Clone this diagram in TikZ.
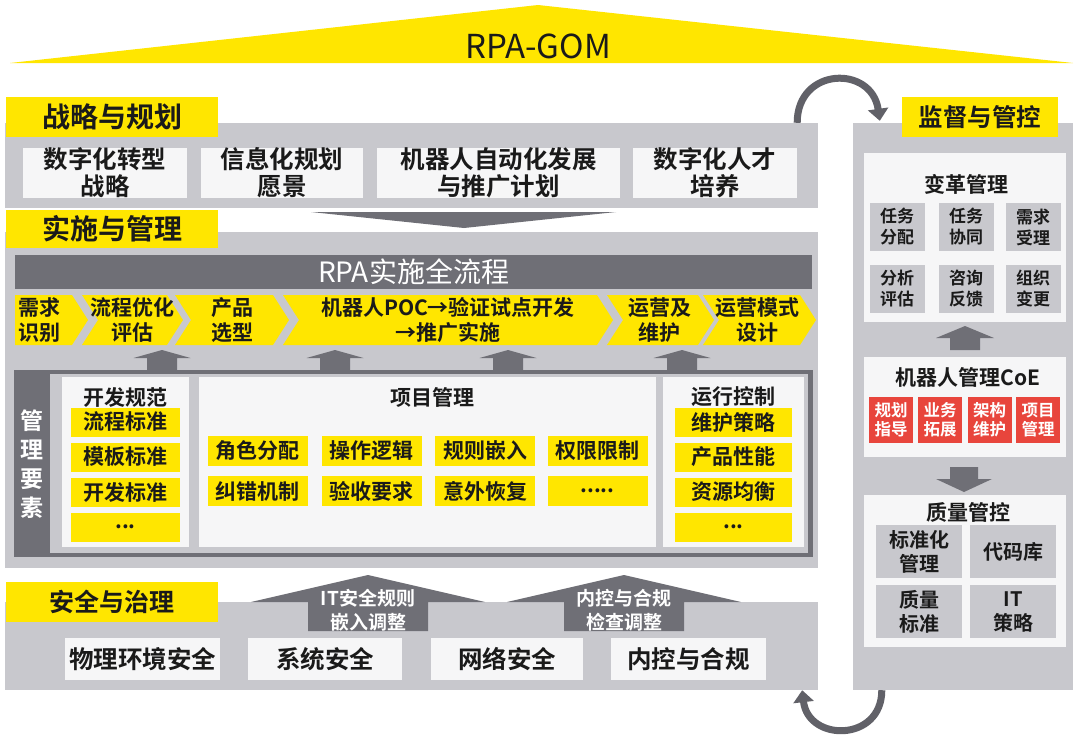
\documentclass[tikz,border=0pt]{standalone}
\usepackage{fontspec}
\setmainfont{Noto Sans CJK SC}[BoldFont={Noto Sans CJK SC Bold}]
\usetikzlibrary{arrows.meta}
\definecolor{eyyellow}{HTML}{FFE600}
\definecolor{panelgray}{HTML}{C8C8CD}
\definecolor{bandgray}{HTML}{6F6F76}
\definecolor{arrowgray}{HTML}{616168}
\definecolor{boxwhite}{HTML}{F6F6F7}
\definecolor{coered}{HTML}{E8453C}
\definecolor{ink}{HTML}{1A1A1A}

\begin{document}
\begin{tikzpicture}[x=1pt, y=-1pt,
  every node/.style={inner sep=0pt, text=ink, align=center},
  sz/.style 2 args={minimum width=#1pt, minimum height=#2pt},
  panel/.style={fill=panelgray},
  tag/.style={fill=eyyellow, font=\bfseries\fontsize{28}{30}\selectfont},
  wbox/.style={fill=boxwhite},
  sbig/.style={font=\bfseries\fontsize{24.5}{27}\selectfont},
  ybox/.style={fill=eyyellow, font=\bfseries\fontsize{21}{22}\selectfont},
  gbox/.style={fill=panelgray, font=\bfseries\fontsize{17}{21}\selectfont},
  qfont/.style={font=\bfseries\fontsize{20}{24}\selectfont},
  rbox/.style={fill=coered, text=white, font=\bfseries\fontsize{16.5}{19}\selectfont},
  ttl/.style={font=\bfseries\fontsize{21}{22}\selectfont},
  blk/.style={fill=bandgray},
  cyc arrow/.style={draw=arrowgray, line width=7pt, -{Triangle[width=20pt,length=12pt]}}]
\fill[white] (0,0) rectangle (1080,740);
\useasboundingbox (0,0) rectangle (1080,740);
% roof
\fill[eyyellow] (10,63) -- (538,5) -- (1073,63) -- cycle;
\node[font=\fontsize{33}{33}\selectfont] (gom) at (538,46) {RPA-GOM};
% panels
\node[panel, sz={813}{85}] (strat) at (411.5,165.5) {};
\node[panel, sz={813}{336}] (impl) at (411.5,400) {};
\node[panel, sz={813}{88}] (sec) at (411.5,646) {};
\node[panel, sz={220}{567}] (sup) at (963,406.5) {};
% loop between the two columns
\coordinate (up1) at ([xshift=-21pt]strat.north east);
\coordinate (up2) at ([xshift=27pt,yshift=2pt]sup.north west);
\draw[cyc arrow] (up1) .. controls +(0,-56) and +(-8,-56) .. (up2);
\coordinate (dn1) at ([xshift=29pt]sup.south west);
\coordinate (dn2) at ([xshift=-16pt]sec.south east);
\draw[cyc arrow] (dn1) .. controls +(0,52) and +(6,52) .. (dn2);
% yellow tags
\node[tag, sz={212}{40}] (tstrat) at (112,117) {战略与规划};
\node[tag, sz={212}{38}] (timpl) at (112,229) {实施与管理};
\node[tag, sz={212}{40}, font=\bfseries\fontsize{25}{26}\selectfont] (tsec) at (112,602) {安全与治理};
\node[tag, sz={156}{40}, font=\bfseries\fontsize{24.5}{26}\selectfont] (tsup) at (980,117) {监督与管控};
% strategy
\node[wbox, sbig, sz={164}{50}] (s1) at (105,173) {数字化转型\\战略};
\node[wbox, sbig, sz={162}{50}] (s2) at (282,173) {信息化规划\\愿景};
\node[wbox, sbig, sz={243}{50}] (s3) at (498.5,173) {机器人自动化发展\\与推广计划};
\node[wbox, sbig, sz={164}{50}] (s4) at (715,173) {数字化人才\\培养};
\fill[bandgray] (311,212) -- (616,212) -- (464,228) -- cycle;
% implementation flow
\node[blk, sz={797}{34}, text=white, font=\fontsize{28}{28}\selectfont] (flow) at (413.5,272) {RPA实施全流程};
\foreach \a/\b/\n/\c/\t [count=\i] in {15/72/0/39/{需求\\识别}, 82/167/16/132.5/{流程优化\\评估}, 175/273/16/232.5/{产品\\选型}, 283/597/16/448/{机器人POC→验证试点开发\\→推广实施}, 607/698/16/659.5/{运营及\\维护}, 703/800/16/757.5/{运营模式\\设计}} {
  \fill[eyyellow] (\a,295) -- (\b,295) -- (\b+16,320) -- (\b,345) -- (\a,345) -- (\a+\n,320) -- cycle;
  \node[font=\bfseries\fontsize{21}{25}\selectfont] (step\i) at (\c,320) {\t};
}
\foreach \x in {162,335,508,682}
  \fill[bandgray] (\x-28.5,358) -- (\x,350) -- (\x+28.5,358) -- (\x+15,358) -- (\x+15,371) -- (\x-15,371) -- (\x-15,358) -- cycle;
% management elements
\node[blk, sz={799}{187}] (mframe) at (413.5,463.5) {};
\node[panel, sz={758}{179}] (minner) at (429,463.5) {};
\node[text=white, font=\bfseries\fontsize{23}{29}\selectfont] (mtag) at (32,464) {管\\理\\要\\素};
\node[wbox, sz={127}{170}] (dev) at (125.5,462) {};
\node[ttl] (devt) at (125.5,397) {开发规范};
\foreach \y/\t [count=\i] in {422/流程标准, 457/模板标准, 492/开发标准, 527/{.{}.{}.}}
  \node[ybox, sz={109}{29}] (dev\i) at (125.5,\y) {\t};
\node[wbox, sz={457}{170}] (pm) at (427.5,462) {};
\node[ttl] (pmt) at (432,397) {项目管理};
\foreach \x/\p/\q [count=\i] in {257.5/角色分配/纠错机制, 371.5/操作逻辑/验收要求, 485/规则嵌入/意外恢复, 597.5/权限限制/{.{}.{}.{}.{}.}} {
  \node[ybox, sz={100}{30}] (pma\i) at (\x,451) {\p};
  \node[ybox, sz={100}{30}] (pmb\i) at (\x,491) {\q};
}
\node[wbox, sz={141}{170}] (run) at (733.5,462) {};
\node[ttl] (runt) at (733.5,397) {运行控制};
\foreach \y/\t [count=\i] in {422/维护策略, 457/产品性能, 492/资源均衡, 527/{.{}.{}.}}
  \node[ybox, sz={117}{29}] (run\i) at (733.5,\y) {\t};
% security
\foreach \x/\t [count=\i] in {368/{IT安全规则\\嵌入调整}, 624/{内控与合规\\检查调整}} {
  \fill[bandgray] (\x-117,602) -- (\x,575) -- (\x+117,602) -- (\x+60,602) -- (\x+60,631) -- (\x-60,631) -- (\x-60,602) -- cycle;
  \node[text=white, font=\bfseries\fontsize{19}{24}\selectfont] (rule\i) at (\x,610) {\t};
}
\foreach \x/\w/\t [count=\i] in {142.5/155/物理环境安全, 325/154/系统安全, 507/152/网络安全, 688.5/155/内控与合规}
  \node[wbox, sbig, sz={\w}{42}] (sb\i) at (\x,659) {\t};
% supervision column
\node[wbox, sz={202}{169}] (chg) at (965,237.5) {};
\node[ttl] (chgt) at (966,184) {变革管理};
\foreach \x/\p/\q [count=\i] in {897/{任务\\分配}/{分析\\评估}, 966/{任务\\协同}/{咨询\\反馈}, 1033/{需求\\受理}/{组织\\变更}} {
  \node[gbox, sz={55}{48}] (chga\i) at (\x,227) {\p};
  \node[gbox, sz={55}{48}] (chgb\i) at (\x,289) {\q};
}
\fill[bandgray] (936,338) -- (965,326) -- (994,338) -- (980,338) -- (980,350) -- (950,350) -- (950,338) -- cycle;
\node[wbox, sz={202}{100}] (coe) at (965,407) {};
\node[ttl] (coet) at (968,377) {机器人管理CoE};
\foreach \x/\t [count=\i] in {891/{规划\\指导}, 940/{业务\\拓展}, 989.5/{架构\\维护}, 1038/{项目\\管理}}
  \node[rbox, sz={44}{46}] (coe\i) at (\x,420) {\t};
\fill[bandgray] (950,467) -- (978,467) -- (978,479) -- (992,479) -- (964,492) -- (936,479) -- (950,479) -- cycle;
\node[wbox, sz={202}{152}] (qc) at (965,571) {};
\node[ttl] (qct) at (968,512) {质量管控};
\foreach \x/\p/\q [count=\i] in {919/{标准化\\管理}/{质量\\标准}, 1013/代码库/{IT\\策略}} {
  \node[gbox, qfont, sz={86}{53}] (qca\i) at (\x,551.5) {\p};
  \node[gbox, qfont, sz={86}{53}] (qcb\i) at (\x,611.5) {\q};
}
\end{tikzpicture}
\end{document}
